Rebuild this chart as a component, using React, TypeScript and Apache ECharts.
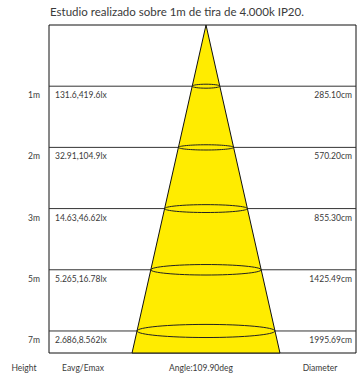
import React, { useEffect, useRef } from "react";
import * as echarts from "echarts";

const title = "Estudio realizado sobre 1m de tira de 4.000k IP20.";
const heights = ["1m", "2m", "3m", "5m", "7m"];
const eavgEmax = ["131.6,419.6lx", "32.91,104.9lx", "14.63,46.62lx", "5.265,16.78lx", "2.686,8.562lx"];
const diameters = ["285.10cm", "570.20cm", "855.30cm", "1425.49cm", "1995.69cm"];
const angleLabel = "Angle:109.90deg";
const headers = ["Height", "Eavg/Emax", "Diameter"];

const X_MIN = -157;
const X_MAX = 150;
const Y_MAX = 5.36;
const CONE_SLOPE = 13.8;
const FONT = "Lato";
const TEXT_COLOR = "#3a3a3a";
const LABEL_FONT = `8.5px ${FONT}`;

export default function App() {
  const ref = useRef<HTMLDivElement>(null);
  useEffect(() => {
    const chart = echarts.init(ref.current!, null, { renderer: "svg" });
    const rowData = heights.map((h, i) => [i + 1, i]);
    chart.setOption({
      animation: false,
      grid: { left: 49, right: 8, top: 25, bottom: 23, show: true, borderColor: "#111", borderWidth: 1, backgroundColor: "#fff" },
      xAxis: { type: "value", min: X_MIN, max: X_MAX, show: false },
      yAxis: { type: "value", min: 0, max: Y_MAX, inverse: true, show: false },
      graphic: [
        { type: "text", x: 50, y: 11, style: { text: title, font: `11.5px ${FONT}`, fill: TEXT_COLOR, textVerticalAlign: "middle" } },
        { type: "text", x: 24, y: 368, style: { text: headers[0], font: LABEL_FONT, fill: TEXT_COLOR, textAlign: "center", textVerticalAlign: "middle" } },
        { type: "text", x: 83, y: 368, style: { text: headers[1], font: LABEL_FONT, fill: TEXT_COLOR, textAlign: "center", textVerticalAlign: "middle" } },
        { type: "text", x: 201, y: 368, style: { text: angleLabel, font: LABEL_FONT, fill: TEXT_COLOR, textAlign: "center", textVerticalAlign: "middle" } },
        { type: "text", x: 320, y: 368, style: { text: headers[2], font: LABEL_FONT, fill: TEXT_COLOR, textAlign: "center", textVerticalAlign: "middle" } },
      ],
      series: [
        {
          type: "custom",
          z: 1,
          clip: false,
          data: rowData,
          renderItem: (params: any, api: any) => {
            const y = api.value(0);
            const i = api.value(1);
            const l = api.coord([X_MIN, y]);
            const r = api.coord([X_MAX, y]);
            return {
              type: "group",
              children: [
                { type: "line", shape: { x1: l[0], y1: l[1], x2: r[0], y2: r[1] }, style: { stroke: "#333", lineWidth: 1 } },
                { type: "text", x: 40, y: l[1] + 9, style: { text: heights[i], font: LABEL_FONT, fill: TEXT_COLOR, textAlign: "right", textVerticalAlign: "middle" } },
                { type: "text", x: l[0] + 6, y: l[1] + 9, style: { text: eavgEmax[i], font: LABEL_FONT, fill: TEXT_COLOR, textAlign: "left", textVerticalAlign: "middle" } },
                { type: "text", x: r[0] - 4, y: l[1] + 9, style: { text: diameters[i], font: LABEL_FONT, fill: TEXT_COLOR, textAlign: "right", textVerticalAlign: "middle" } },
              ],
            };
          },
        },
        {
          type: "custom",
          z: 2,
          clip: false,
          data: [[Y_MAX]],
          renderItem: (params: any, api: any) => {
            const yb = api.value(0);
            const apex = api.coord([0, 0]);
            const bl = api.coord([-CONE_SLOPE * yb, yb]);
            const br = api.coord([CONE_SLOPE * yb, yb]);
            return {
              type: "polygon",
              shape: { points: [apex, bl, br] },
              style: { fill: "#FFEC00", stroke: "#111", lineWidth: 1 },
            };
          },
        },
        {
          type: "custom",
          z: 3,
          clip: false,
          data: rowData,
          renderItem: (params: any, api: any) => {
            const y = api.value(0);
            const c = api.coord([0, y]);
            const e = api.coord([CONE_SLOPE * y, y]);
            const rx = e[0] - c[0];
            return {
              type: "ellipse",
              shape: { cx: c[0], cy: c[1], rx, ry: Math.max(2, rx * 0.095) },
              style: { fill: "none", stroke: "#222", lineWidth: 1 },
            };
          },
        },
      ],
    });
    return () => chart.dispose();
  }, []);
  return <div ref={ref} style={{ width: 364, height: 376, position: "absolute", left: 0, top: 0 }} />;
}
